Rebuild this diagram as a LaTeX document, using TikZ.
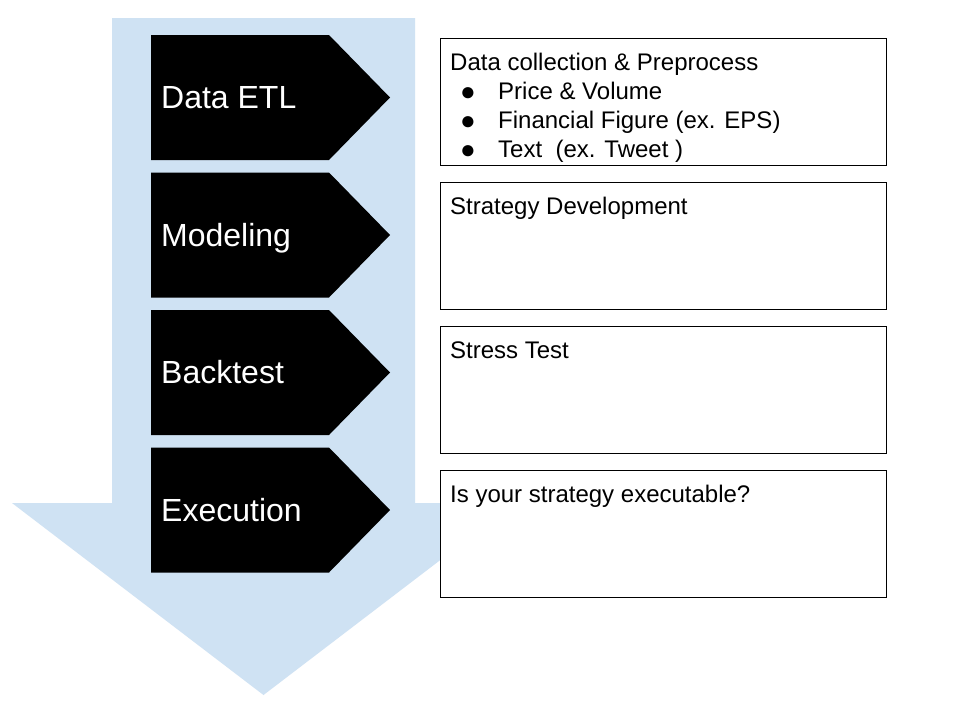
\documentclass[tikz,border=0pt]{standalone}
\usepackage{fontspec}
\setmainfont{Liberation Sans}
\definecolor{arrowblue}{HTML}{CFE2F3}
\begin{document}
\begin{tikzpicture}[x=1pt,y=-1pt,
  stagebox/.style={fill=black},
  stagelabel/.style={anchor=base west, inner sep=0pt, text=white, font=\fontsize{32}{38}\selectfont},
  boxframe/.style={draw=black, fill=white, line width=1pt, minimum width=446pt, minimum height=127pt, inner sep=0pt},
  boxline/.style={anchor=base west, inner sep=0pt, font=\fontsize{24}{29}\selectfont},
  bulletmark/.style={anchor=base, inner sep=0pt, font=\fontsize{26}{26}\selectfont}]
\useasboundingbox[fill=white] (0,0) rectangle (960,720);
% big down arrow
\fill[arrowblue] (112,18) -- (415,18) -- (415,503) -- (515,503) -- (263.5,695) -- (12,503) -- (112,503) -- cycle;
% stage pentagons
\foreach \yt in {35,172.5,310,447.5}{
  \fill[stagebox] (151,\yt) -- (329,\yt) -- (390,\yt+62.5) -- (329,\yt+125) -- (151,\yt+125) -- cycle;
}
\node[stagelabel] (etl) at (161,108.5) {Data ETL};
\node[stagelabel] (model) at (161,246) {Modeling};
\node[stagelabel] (back) at (161,383.5) {Backtest};
\node[stagelabel] (exec) at (161,521) {Execution};
% right boxes
\node[boxframe] (b1) at (663,101.5) {};
\node[boxframe] (b2) at (663,245.5) {};
\node[boxframe] (b3) at (663,389.5) {};
\node[boxframe] (b4) at (663,533.5) {};
% box texts
\node[boxline] (t1) at (450,70) {Data collection \& Preprocess};
\node[bulletmark] (d1) at (468,100) {●};
\node[boxline] (t1a) at (498,99) {Price \& Volume};
\node[bulletmark] (d2) at (468,129) {●};
\node[boxline] (t1b) at (498,128) {Financial Figure (ex. EPS)};
\node[bulletmark] (d3) at (468,158) {●};
\node[boxline] (t1c) at (498,157) {Text\ \ (ex. Tweet\ )};
\node[boxline] (t2) at (450,214) {Strategy Development};
\node[boxline] (t3) at (450,358) {Stress Test};
\node[boxline] (t4) at (450,502) {Is your strategy executable?};
\end{tikzpicture}
\end{document}
